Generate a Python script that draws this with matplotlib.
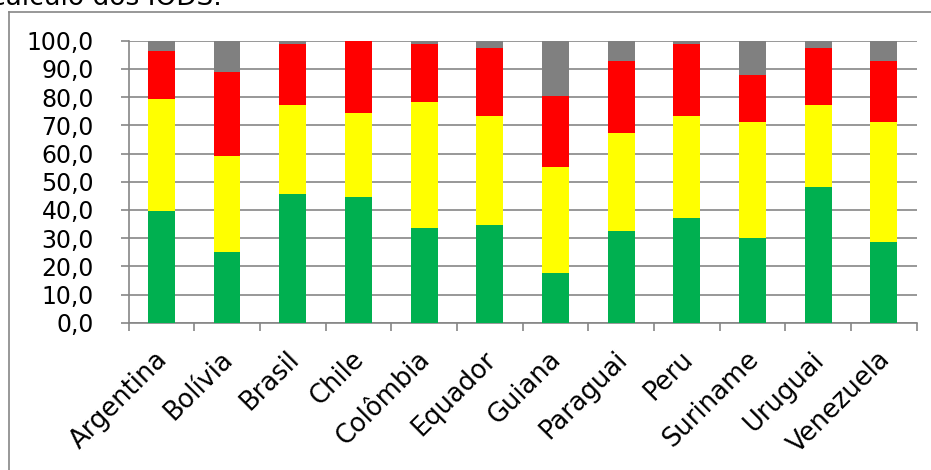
import matplotlib
matplotlib.use("Agg")
import matplotlib.pyplot as plt
import matplotlib.transforms as mtransforms
from matplotlib.lines import Line2D
import numpy as np

# Dados (tamanho de cada faixa, em %)
paises = ["Argentina", "Bolívia", "Brasil", "Chile", "Colômbia", "Equador",
          "Guiana", "Paraguai", "Peru", "Suriname", "Uruguai", "Venezuela"]
verde = [39.6, 25.1, 45.6, 44.6, 33.6, 34.6, 17.8, 32.4, 37.1, 29.9, 48.1, 28.7]
amarelo = [39.8, 33.9, 31.5, 29.9, 44.7, 38.8, 37.5, 35.0, 36.3, 41.1, 29.0, 42.3]
vermelho = [17.1, 30.0, 21.7, 25.5, 20.5, 24.1, 25.2, 25.4, 25.4, 16.9, 20.4, 21.8]
cinza = [3.5, 11.0, 1.2, 0.0, 1.2, 2.5, 19.5, 7.2, 1.2, 12.1, 2.5, 7.2]

cores = ["#00B050", "#FFFF00", "#FF0000", "#808080"]
yticks = np.arange(0, 101, 10)
cinza_eixo = "#868686"

fig = plt.figure(figsize=(9.31, 4.70), dpi=100)
ax = fig.add_axes([128.5 / 931, 147.3 / 470, (916.7 - 128.5) / 931, 282.0 / 470])

x = np.arange(len(paises))
base = np.zeros(len(paises))
for serie, cor in zip([verde, amarelo, vermelho, cinza], cores):
    ax.bar(x, serie, width=0.41, bottom=base, color=cor, edgecolor="none", zorder=3)
    base = base + np.array(serie)

ax.set_xlim(-0.5, len(paises) - 0.5)
ax.set_ylim(0, 100)
ax.set_yticks(yticks)
ax.set_yticklabels([("%.1f" % v).replace(".", ",") for v in yticks])
ax.yaxis.grid(True, color=cinza_eixo, linewidth=1.2, zorder=0)

# ticks do eixo x nas fronteiras das categorias
ax.set_xticks(np.arange(len(paises) + 1) - 0.5)
ax.set_xticklabels([])
ax.set_xticks(x, minor=True)
ax.set_xticklabels(paises, minor=True, rotation=45, ha="right",
                   rotation_mode="anchor", fontsize=18.5)
ax.tick_params(axis="x", which="minor", length=0, pad=17)
ax.tick_params(axis="x", which="major", length=6, color=cinza_eixo, width=1.2)
ax.tick_params(axis="y", length=6, color=cinza_eixo, width=1.2, labelsize=17, pad=19)

# rotulos um pouco para a esquerda, como no original
desloc = mtransforms.ScaledTranslation(-7 / 100, 0, fig.dpi_scale_trans)
for rot in ax.get_xticklabels(minor=True):
    rot.set_transform(rot.get_transform() + desloc)

for lado in ["top", "right"]:
    ax.spines[lado].set_visible(False)
for lado in ["left", "bottom"]:
    ax.spines[lado].set_color(cinza_eixo)
    ax.spines[lado].set_linewidth(1.2)

# moldura externa e texto cortado no topo
fig.add_artist(Line2D([8.5 / 931, 8.5 / 931], [0, 1 - 11.5 / 470], color=cinza_eixo,
                      linewidth=1.2, transform=fig.transFigure))
fig.add_artist(Line2D([8.5 / 931, 1], [1 - 11.5 / 470, 1 - 11.5 / 470], color=cinza_eixo,
                      linewidth=1.2, transform=fig.transFigure))
fig.text(222 / 931, 1 - 5 / 470, "cálculo dos IODS.", ha="right", va="baseline",
         fontsize=19)

fig.savefig("out.png", dpi=100)
